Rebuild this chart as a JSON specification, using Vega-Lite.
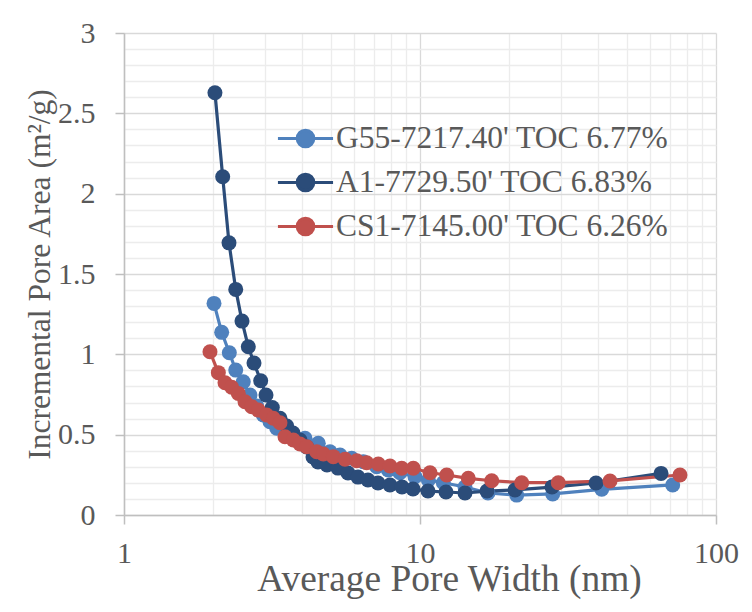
{
  "$schema": "https://vega.github.io/schema/vega-lite/v6.json",
  "width": 592,
  "height": 482,
  "autosize": {"type": "none"},
  "padding": {"left": 124, "top": 33, "right": 36, "bottom": 97},
  "background": "white",
  "config": {
    "view": {"stroke": null},
    "font": "Liberation Serif",
    "legend": {"labelFont": "Liberation Serif", "labelFontSize": 31.5, "labelColor": "#595959"}
  },
  "data": {
    "values": [
      {"s": "G55-7217.40' TOC 6.77%", "w": 2.014, "a": 1.317},
      {"s": "G55-7217.40' TOC 6.77%", "w": 2.138, "a": 1.137},
      {"s": "G55-7217.40' TOC 6.77%", "w": 2.269, "a": 1.010},
      {"s": "G55-7217.40' TOC 6.77%", "w": 2.385, "a": 0.902},
      {"s": "G55-7217.40' TOC 6.77%", "w": 2.529, "a": 0.829},
      {"s": "G55-7217.40' TOC 6.77%", "w": 2.665, "a": 0.747},
      {"s": "G55-7217.40' TOC 6.77%", "w": 2.808, "a": 0.678},
      {"s": "G55-7217.40' TOC 6.77%", "w": 2.955, "a": 0.622},
      {"s": "G55-7217.40' TOC 6.77%", "w": 3.113, "a": 0.581},
      {"s": "G55-7217.40' TOC 6.77%", "w": 3.281, "a": 0.540},
      {"s": "G55-7217.40' TOC 6.77%", "w": 3.499, "a": 0.508},
      {"s": "G55-7217.40' TOC 6.77%", "w": 3.733, "a": 0.477},
      {"s": "G55-7217.40' TOC 6.77%", "w": 4.088, "a": 0.477},
      {"s": "G55-7217.40' TOC 6.77%", "w": 4.533, "a": 0.446},
      {"s": "G55-7217.40' TOC 6.77%", "w": 4.965, "a": 0.394},
      {"s": "G55-7217.40' TOC 6.77%", "w": 5.366, "a": 0.373},
      {"s": "G55-7217.40' TOC 6.77%", "w": 5.879, "a": 0.353},
      {"s": "G55-7217.40' TOC 6.77%", "w": 6.435, "a": 0.332},
      {"s": "G55-7217.40' TOC 6.77%", "w": 7.141, "a": 0.301},
      {"s": "G55-7217.40' TOC 6.77%", "w": 7.815, "a": 0.280},
      {"s": "G55-7217.40' TOC 6.77%", "w": 8.557, "a": 0.263},
      {"s": "G55-7217.40' TOC 6.77%", "w": 9.618, "a": 0.238},
      {"s": "G55-7217.40' TOC 6.77%", "w": 10.67, "a": 0.218},
      {"s": "G55-7217.40' TOC 6.77%", "w": 11.99, "a": 0.201},
      {"s": "G55-7217.40' TOC 6.77%", "w": 14.19, "a": 0.174},
      {"s": "G55-7217.40' TOC 6.77%", "w": 16.97, "a": 0.137},
      {"s": "G55-7217.40' TOC 6.77%", "w": 21.22, "a": 0.124},
      {"s": "G55-7217.40' TOC 6.77%", "w": 28.08, "a": 0.131},
      {"s": "G55-7217.40' TOC 6.77%", "w": 41.11, "a": 0.160},
      {"s": "G55-7217.40' TOC 6.77%", "w": 71.40, "a": 0.187},
      {"s": "A1-7729.50' TOC 6.83%", "w": 2.029, "a": 2.628},
      {"s": "A1-7729.50' TOC 6.83%", "w": 2.155, "a": 2.105},
      {"s": "A1-7729.50' TOC 6.83%", "w": 2.263, "a": 1.694},
      {"s": "A1-7729.50' TOC 6.83%", "w": 2.385, "a": 1.404},
      {"s": "A1-7729.50' TOC 6.83%", "w": 2.504, "a": 1.207},
      {"s": "A1-7729.50' TOC 6.83%", "w": 2.630, "a": 1.047},
      {"s": "A1-7729.50' TOC 6.83%", "w": 2.749, "a": 0.946},
      {"s": "A1-7729.50' TOC 6.83%", "w": 2.896, "a": 0.836},
      {"s": "A1-7729.50' TOC 6.83%", "w": 3.018, "a": 0.747},
      {"s": "A1-7729.50' TOC 6.83%", "w": 3.170, "a": 0.669},
      {"s": "A1-7729.50' TOC 6.83%", "w": 3.365, "a": 0.602},
      {"s": "A1-7729.50' TOC 6.83%", "w": 3.546, "a": 0.554},
      {"s": "A1-7729.50' TOC 6.83%", "w": 3.724, "a": 0.510},
      {"s": "A1-7729.50' TOC 6.83%", "w": 3.932, "a": 0.467},
      {"s": "A1-7729.50' TOC 6.83%", "w": 4.143, "a": 0.423},
      {"s": "A1-7729.50' TOC 6.83%", "w": 4.350, "a": 0.361},
      {"s": "A1-7729.50' TOC 6.83%", "w": 4.523, "a": 0.330},
      {"s": "A1-7729.50' TOC 6.83%", "w": 4.852, "a": 0.311},
      {"s": "A1-7729.50' TOC 6.83%", "w": 5.284, "a": 0.292},
      {"s": "A1-7729.50' TOC 6.83%", "w": 5.711, "a": 0.261},
      {"s": "A1-7729.50' TOC 6.83%", "w": 6.173, "a": 0.236},
      {"s": "A1-7729.50' TOC 6.83%", "w": 6.672, "a": 0.218},
      {"s": "A1-7729.50' TOC 6.83%", "w": 7.213, "a": 0.199},
      {"s": "A1-7729.50' TOC 6.83%", "w": 7.917, "a": 0.187},
      {"s": "A1-7729.50' TOC 6.83%", "w": 8.695, "a": 0.174},
      {"s": "A1-7729.50' TOC 6.83%", "w": 9.471, "a": 0.162},
      {"s": "A1-7729.50' TOC 6.83%", "w": 10.64, "a": 0.149},
      {"s": "A1-7729.50' TOC 6.83%", "w": 12.24, "a": 0.143},
      {"s": "A1-7729.50' TOC 6.83%", "w": 14.19, "a": 0.137},
      {"s": "A1-7729.50' TOC 6.83%", "w": 16.84, "a": 0.149},
      {"s": "A1-7729.50' TOC 6.83%", "w": 20.94, "a": 0.156},
      {"s": "A1-7729.50' TOC 6.83%", "w": 27.92, "a": 0.174},
      {"s": "A1-7729.50' TOC 6.83%", "w": 39.32, "a": 0.199},
      {"s": "A1-7729.50' TOC 6.83%", "w": 65.21, "a": 0.259},
      {"s": "CS1-7145.00' TOC 6.26%", "w": 1.952, "a": 1.016},
      {"s": "CS1-7145.00' TOC 6.26%", "w": 2.083, "a": 0.886},
      {"s": "CS1-7145.00' TOC 6.26%", "w": 2.194, "a": 0.823},
      {"s": "CS1-7145.00' TOC 6.26%", "w": 2.311, "a": 0.795},
      {"s": "CS1-7145.00' TOC 6.26%", "w": 2.433, "a": 0.757},
      {"s": "CS1-7145.00' TOC 6.26%", "w": 2.563, "a": 0.705},
      {"s": "CS1-7145.00' TOC 6.26%", "w": 2.701, "a": 0.674},
      {"s": "CS1-7145.00' TOC 6.26%", "w": 2.843, "a": 0.653},
      {"s": "CS1-7145.00' TOC 6.26%", "w": 3.034, "a": 0.622},
      {"s": "CS1-7145.00' TOC 6.26%", "w": 3.194, "a": 0.602},
      {"s": "CS1-7145.00' TOC 6.26%", "w": 3.365, "a": 0.574},
      {"s": "CS1-7145.00' TOC 6.26%", "w": 3.499, "a": 0.487},
      {"s": "CS1-7145.00' TOC 6.26%", "w": 3.733, "a": 0.467},
      {"s": "CS1-7145.00' TOC 6.26%", "w": 3.932, "a": 0.442},
      {"s": "CS1-7145.00' TOC 6.26%", "w": 4.143, "a": 0.425},
      {"s": "CS1-7145.00' TOC 6.26%", "w": 4.478, "a": 0.394},
      {"s": "CS1-7145.00' TOC 6.26%", "w": 4.714, "a": 0.380},
      {"s": "CS1-7145.00' TOC 6.26%", "w": 5.095, "a": 0.363},
      {"s": "CS1-7145.00' TOC 6.26%", "w": 5.580, "a": 0.347},
      {"s": "CS1-7145.00' TOC 6.26%", "w": 6.111, "a": 0.338},
      {"s": "CS1-7145.00' TOC 6.26%", "w": 6.603, "a": 0.325},
      {"s": "CS1-7145.00' TOC 6.26%", "w": 7.231, "a": 0.317},
      {"s": "CS1-7145.00' TOC 6.26%", "w": 7.917, "a": 0.305},
      {"s": "CS1-7145.00' TOC 6.26%", "w": 8.673, "a": 0.291},
      {"s": "CS1-7145.00' TOC 6.26%", "w": 9.493, "a": 0.291},
      {"s": "CS1-7145.00' TOC 6.26%", "w": 10.81, "a": 0.263},
      {"s": "CS1-7145.00' TOC 6.26%", "w": 12.31, "a": 0.249},
      {"s": "CS1-7145.00' TOC 6.26%", "w": 14.56, "a": 0.228},
      {"s": "CS1-7145.00' TOC 6.26%", "w": 17.47, "a": 0.213},
      {"s": "CS1-7145.00' TOC 6.26%", "w": 22.06, "a": 0.201},
      {"s": "CS1-7145.00' TOC 6.26%", "w": 29.32, "a": 0.201},
      {"s": "CS1-7145.00' TOC 6.26%", "w": 43.85, "a": 0.212},
      {"s": "CS1-7145.00' TOC 6.26%", "w": 75.56, "a": 0.249}
    ]
  },
  "encoding": {
    "x": {
      "field": "w",
      "type": "quantitative",
      "scale": {"type": "log", "domain": [1, 100], "nice": false},
      "axis": {
        "title": "Average Pore Width (nm)",
        "titleFont": "Liberation Serif",
        "titleFontSize": 37.4,
        "titleFontWeight": "normal",
        "titleColor": "#595959",
        "titleX": 325,
        "titleY": 75,
        "titleAlign": "center",
        "titleBaseline": "alphabetic",
        "values": [1, 2, 3, 4, 5, 6, 7, 8, 9, 10, 20, 30, 40, 50, 60, 70, 80, 90, 100],
        "labelExpr": "(datum.value == 1 || datum.value == 10 || datum.value == 100) ? '' + datum.value : ''",
        "labelFont": "Liberation Serif",
        "labelFontSize": 30,
        "labelColor": "#595959",
        "labelPadding": 14,
        "labelFlush": false,
        "labelOverlap": false,
        "tickSize": 9,
        "tickColor": "#bfbfbf",
        "tickWidth": 1.5,
        "tickOpacity": {"condition": {"test": "datum.value == 1 || datum.value == 10 || datum.value == 100", "value": 1}, "value": 0},
        "domainColor": "#bfbfbf",
        "domainWidth": 1.5,
        "grid": true,
        "gridColor": {"condition": {"test": "datum.value == 1 || datum.value == 10 || datum.value == 100", "value": "#d9d9d9"}, "value": "#ececec"},
        "gridWidth": 1.3
      }
    },
    "y": {
      "field": "a",
      "type": "quantitative",
      "scale": {"domain": [0, 3], "nice": false},
      "axis": {
        "title": "Incremental Pore Area (m²/g)",
        "titleFont": "Liberation Serif",
        "titleFontSize": 31.5,
        "titleFontWeight": "normal",
        "titleColor": "#595959",
        "titleAngle": 270,
        "titleX": -84,
        "titleY": 241,
        "titleAlign": "center",
        "titleBaseline": "middle",
        "values": [0, 0.1, 0.2, 0.3, 0.4, 0.5, 0.6, 0.7, 0.8, 0.9, 1, 1.1, 1.2, 1.3, 1.4, 1.5, 1.6, 1.7, 1.8, 1.9, 2, 2.1, 2.2, 2.3, 2.4, 2.5, 2.6, 2.7, 2.8, 2.9, 3],
        "labelExpr": "abs(datum.value * 2 - round(datum.value * 2)) < 0.001 ? format(datum.value, '~g') : ''",
        "labelFont": "Liberation Serif",
        "labelFontSize": 30,
        "labelColor": "#595959",
        "labelPadding": 20,
        "labelFlush": false,
        "labelOverlap": false,
        "tickSize": 9,
        "tickColor": "#bfbfbf",
        "tickWidth": 1.5,
        "tickOpacity": {"condition": {"test": "abs(datum.value * 2 - round(datum.value * 2)) < 0.001", "value": 1}, "value": 0},
        "domainColor": "#bfbfbf",
        "domainWidth": 1.5,
        "grid": true,
        "gridColor": {"condition": {"test": "abs(datum.value * 2 - round(datum.value * 2)) < 0.001", "value": "#d9d9d9"}, "value": "#ececec"},
        "gridWidth": 1.3
      }
    },
    "color": {
      "field": "s",
      "type": "nominal",
      "sort": null,
      "scale": {
        "domain": ["G55-7217.40' TOC 6.77%", "A1-7729.50' TOC 6.83%", "CS1-7145.00' TOC 6.26%"],
        "range": ["#4f81bd", "#2b4c79", "#c0504d"]
      },
      "legend": {
        "title": null,
        "orient": "none",
        "legendX": 153,
        "legendY": 77,
        "padding": 0,
        "rowPadding": 0,
        "symbolType": "M-1.04,0H1.04M-0.31,0A0.31,0.31,0,1,0,0.31,0A0.31,0.31,0,1,0,-0.31,0Z",
        "symbolSize": 2809,
        "symbolStrokeWidth": 3.2,
        "labelFont": "Liberation Serif",
        "labelFontSize": 31.5,
        "labelColor": "#595959",
        "labelOffset": 2,
        "labelLimit": 600,
        "encode": {
          "symbols": {
            "update": {
              "fill": {"scale": "color", "field": "value"},
              "stroke": {"scale": "color", "field": "value"},
              "strokeWidth": {"value": 3.2},
              "opacity": {"value": 1}
            }
          }
        }
      }
    }
  },
  "layer": [
    {"mark": {"type": "line", "strokeWidth": 3.2}},
    {"mark": {"type": "point", "filled": true, "size": 225, "opacity": 1, "shape": "circle"}}
  ]
}
